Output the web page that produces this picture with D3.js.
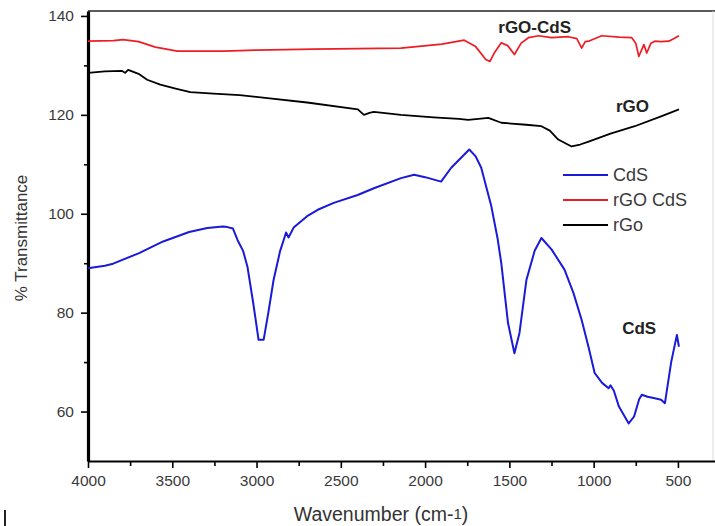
<!DOCTYPE html>
<html>
<head>
<meta charset="utf-8">
<script src="https://cdn.jsdelivr.net/npm/d3@7"></script>
<style>
  body { margin: 0; background: #fff; }
  svg { display: block; font-family: "Liberation Sans", Arial, sans-serif; }
</style>
</head>
<body>
<div id="chart"></div>
<script>
// wavenumbers (cm-1) and % transmittance
let cdsWave = [4000, 3900, 3851, 3700, 3554, 3400, 3292, 3200, 3173, 3140, 3113, 3080, 3054, 3020, 2988, 2958, 2930, 2899, 2860, 2839, 2825, 2810, 2780, 2700, 2637, 2542, 2400, 2300, 2143, 2065, 2000, 1905, 1845, 1738, 1700, 1667, 1607, 1570, 1548, 1508, 1470, 1440, 1399, 1350, 1310, 1250, 1173, 1120, 1071, 1030, 994, 950, 911, 900, 880, 850, 792, 760, 730, 714, 680, 637, 600, 577, 540, 506, 494];
let cdsT = [89.0, 89.5, 89.9, 92.0, 94.4, 96.3, 97.1, 97.4, 97.3, 97.0, 94.7, 92.5, 89.3, 82.0, 74.5, 74.5, 80.0, 86.6, 92.5, 94.7, 96.2, 95.2, 97.2, 99.5, 100.8, 102.2, 103.8, 105.2, 107.2, 107.9, 107.4, 106.5, 109.3, 113.0, 111.6, 109.3, 101.5, 95.0, 90.0, 77.9, 71.8, 75.9, 86.6, 92.5, 95.1, 92.8, 88.7, 84.0, 78.5, 73.0, 67.8, 65.8, 64.7, 65.3, 64.2, 61.0, 57.6, 59.0, 62.5, 63.4, 63.0, 62.7, 62.4, 61.7, 70.0, 75.5, 73.1];

let rgoWave = [4000, 3900, 3800, 3780, 3762, 3700, 3649, 3571, 3480, 3393, 3256, 3100, 2935, 2700, 2399, 2363, 2330, 2304, 2143, 1950, 1800, 1744, 1625, 1548, 1400, 1310, 1260, 1210, 1131, 1080, 1030, 900, 756, 600, 494];
let rgoT = [128.5, 128.8, 128.9, 128.5, 129.1, 128.3, 127.1, 126.1, 125.3, 124.6, 124.3, 124.0, 123.4, 122.5, 121.1, 120.0, 120.4, 120.6, 120.0, 119.5, 119.2, 119.0, 119.4, 118.4, 118.0, 117.7, 116.8, 115.0, 113.6, 114.0, 114.6, 116.2, 117.7, 119.7, 121.1];

let rgoCdsWave = [4000, 3850, 3792, 3700, 3600, 3470, 3196, 3000, 2661, 2400, 2143, 1900, 1768, 1700, 1640, 1615, 1590, 1548, 1510, 1470, 1430, 1387, 1327, 1250, 1150, 1100, 1071, 1050, 1030, 952, 850, 774, 750, 732, 702, 685, 660, 637, 600, 554, 520, 494];
let rgoCdsT = [134.9, 135.0, 135.2, 134.8, 133.7, 132.9, 132.9, 133.1, 133.3, 133.4, 133.5, 134.3, 135.1, 133.8, 131.2, 130.8, 132.5, 134.6, 134.0, 132.2, 134.5, 135.6, 136.0, 135.6, 135.8, 135.4, 133.5, 134.8, 134.9, 136.0, 135.7, 135.6, 134.5, 131.8, 134.2, 132.5, 134.5, 134.9, 134.8, 134.9, 135.5, 136.0];

let seriesNames = ["CdS", "rGO CdS", "rGo"];
let seriesColors = ["#1a1ad8", "#ee1c24", "#000000"];
let xTicks = [4000, 3500, 3000, 2500, 2000, 1500, 1000, 500];
let yTicks = [60, 80, 100, 120, 140];

let width = 715, height = 526;
let margin = { top: 11, left: 88, right: 0, bottom: 65 };

let svg = d3.select("#chart")
  .append("svg")
  .attr("width", width)
  .attr("height", height);

let x = d3.scaleLinear()
  .domain([4000, 280])
  .range([margin.left, width - margin.right]);

let y = d3.scaleLinear()
  .domain([50, 141])
  .range([height - margin.bottom, margin.top]);

// frame: faint top/right, heavy left/bottom
svg.append("line")
  .attr("x1", x(4000)).attr("x2", width)
  .attr("y1", y(141)).attr("y2", y(141))
  .style("stroke", "#222").style("stroke-width", 1.5);
svg.append("line")
  .attr("x1", width - 2).attr("x2", width - 2)
  .attr("y1", y(141)).attr("y2", y(50))
  .style("stroke", "#ddd").style("stroke-width", 1);

// minor ticks
let minorX = d3.range(3750, 400, -500);
let minorY = [70, 90, 110, 130];

let xAxis = svg.append("g")
  .attr("transform", `translate(0,${y(50)})`)
  .call(d3.axisBottom(x).tickValues(xTicks).tickFormat(d3.format("d"))
    .tickSize(7).tickSizeOuter(0).tickPadding(7));
svg.append("g")
  .attr("transform", `translate(0,${y(50)})`)
  .call(d3.axisBottom(x).tickValues(minorX).tickSize(5).tickFormat(""))
  .call(g => g.select(".domain").remove());

let yAxis = svg.append("g")
  .attr("transform", `translate(${x(4000)},0)`)
  .call(d3.axisLeft(y).tickValues(yTicks).tickFormat(d3.format("d"))
    .tickSize(7).tickSizeOuter(0).tickPadding(7));
svg.append("g")
  .attr("transform", `translate(${x(4000)},0)`)
  .call(d3.axisLeft(y).tickValues(minorY).tickSize(4).tickFormat(""))
  .call(g => g.select(".domain").remove());

xAxis.select(".domain").style("stroke-width", 2.2);
yAxis.select(".domain").style("stroke-width", 3.2);
svg.selectAll(".tick line").style("stroke-width", 1.6);
svg.selectAll(".tick text")
  .style("font-size", "15.5px")
  .style("fill", "#3a3a3a")
  .style("font-family", "Liberation Sans, Arial, sans-serif");

// axis titles
svg.append("text")
  .attr("transform", "translate(27,238) rotate(-90)")
  .attr("text-anchor", "middle")
  .style("font-size", "17px")
  .style("fill", "#333")
  .text("% Transmittance");

let xt = svg.append("text")
  .attr("x", 381)
  .attr("y", 521)
  .attr("text-anchor", "middle")
  .style("font-size", "19.5px")
  .style("fill", "#333")
  .text("Wavenumber (cm-");
xt.append("tspan").attr("dy", -2).style("font-size", "15px").text("1");
xt.append("tspan").attr("dy", 2).text(")");

// spectra
let line = d3.line()
  .x(d => x(d[0]))
  .y(d => y(d[1]));

let spectra = [
  { wave: cdsWave, t: cdsT, color: seriesColors[0], w: 2 },
  { wave: rgoCdsWave, t: rgoCdsT, color: seriesColors[1], w: 1.7 },
  { wave: rgoWave, t: rgoT, color: seriesColors[2], w: 1.8 }
];

svg.append("g")
  .selectAll("path")
  .data(spectra)
  .enter()
    .append("path")
      .attr("d", s => line(d3.zip(s.wave, s.t)))
      .style("fill", "none")
      .style("stroke", s => s.color)
      .style("stroke-width", s => s.w)
      .style("stroke-linejoin", "round");

// legend
let legend = svg.append("g")
  .selectAll("g")
  .data(seriesNames)
  .enter()
    .append("g")
      .attr("transform", (d, i) => `translate(563,${175 + i * 25})`);
legend.append("line")
  .attr("x1", 0).attr("x2", 45)
  .style("stroke", (d, i) => seriesColors[i])
  .style("stroke-width", 1.8);
legend.append("text")
  .attr("x", 50)
  .attr("dy", "0.35em")
  .style("font-size", "18px")
  .style("fill", "#3a3a3a")
  .text(d => d);

// curve labels
let labels = [
  { text: "rGO-CdS", wave: 1350, t: 136.6 },
  { text: "rGO", wave: 770, t: 120.5 },
  { text: "CdS", wave: 730, t: 75.6 }
];
svg.append("g")
  .selectAll("text")
  .data(labels)
  .enter()
    .append("text")
      .attr("x", d => x(d.wave))
      .attr("y", d => y(d.t))
      .attr("text-anchor", "middle")
      .style("font-size", "17px")
      .style("font-weight", "bold")
      .style("fill", "#222")
      .text(d => d.text);

// stray mark from the original scan
svg.append("line")
  .attr("x1", 5).attr("x2", 5)
  .attr("y1", 510).attr("y2", 526)
  .style("stroke", "#222").style("stroke-width", 2);
</script>
</body>
</html>
